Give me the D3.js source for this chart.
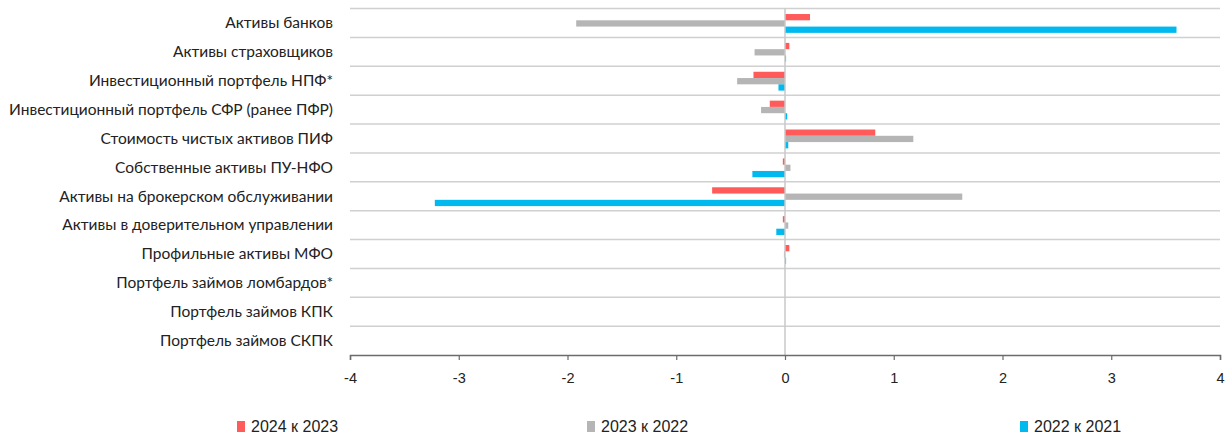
<!DOCTYPE html>
<html>
<head>
<meta charset="utf-8">
<script src="https://cdn.jsdelivr.net/npm/d3@7"></script>
<style>
  html, body { margin: 0; padding: 0; background: #fff; }
  svg { display: block; }
</style>
</head>
<body>
<svg id="chart" width="1227" height="437"></svg>
<script>
// Categories (top to bottom)
const categories = [
  "Активы банков",
  "Активы страховщиков",
  "Инвестиционный портфель НПФ*",
  "Инвестиционный портфель СФР (ранее ПФР)",
  "Стоимость чистых активов ПИФ",
  "Собственные активы ПУ-НФО",
  "Активы на брокерском обслуживании",
  "Активы в доверительном управлении ",
  "Профильные активы МФО",
  "Портфель займов ломбардов*",
  "Портфель займов КПК",
  "Портфель займов СКПК"
];

// Series names and colours
const seriesNames = ["2024 к 2023", "2023 к 2022", "2022 к 2021"];
const seriesColors = ["#ff5b5b", "#b5b5b6", "#00b9ef"];

// Values per series, in category order
const values2024vs2023 = [0.23, 0.04, -0.29, -0.14, 0.83, -0.02, -0.67, -0.02, 0.04, 0, 0, 0];
const values2023vs2022 = [-1.92, -0.28, -0.44, -0.22, 1.18, 0.05, 1.63, 0.03, -0.01, 0, 0, 0];
const values2022vs2021 = [3.60, 0.01, -0.06, 0.02, 0.03, -0.30, -3.22, -0.08, 0.01, 0, 0, 0];
const seriesValues = [values2024vs2023, values2023vs2022, values2022vs2021];

// Axis ticks
const xTicks = [-4, -3, -2, -1, 0, 1, 2, 3, 4];

const svg = d3.select("#chart");
const plot = { left: 350, right: 1220, top: 8.5, bottom: 355 };

const x = d3.scaleLinear().domain([-4, 4]).range([plot.left, plot.right]);
const y = d3.scaleBand().domain(categories).range([plot.top, plot.bottom]).padding(0);
const yInner = d3.scaleBand().domain(d3.range(seriesNames.length))
  .range([0, y.bandwidth()]).paddingInner(0).paddingOuter(0.8).align(0.55);

// Horizontal separators between categories
const grid = svg.append("g");
categories.forEach(c => {
  grid.append("line")
    .attr("x1", plot.left).attr("x2", plot.right)
    .attr("y1", y(c)).attr("y2", y(c))
    .attr("stroke", "#d0d0d0").attr("stroke-width", 1.5);
});

// Bars
const bars = svg.append("g");
seriesValues.forEach((vals, si) => {
  bars.selectAll(null)
    .data(vals.map((v, i) => ({ v, c: categories[i] })))
    .join("rect")
    .attr("x", d => x(Math.min(0, d.v)))
    .attr("width", d => Math.abs(x(d.v) - x(0)))
    .attr("y", d => y(d.c) + yInner(si))
    .attr("height", yInner.bandwidth())
    .attr("fill", seriesColors[si]);
});

// Zero line
svg.append("line")
  .attr("x1", x(0)).attr("x2", x(0))
  .attr("y1", plot.top).attr("y2", plot.bottom)
  .attr("stroke", "#c8c8c8").attr("stroke-width", 1.5);

// Category labels
svg.append("g").selectAll("text")
  .data(categories)
  .join("text")
  .attr("x", 333)
  .attr("y", d => y(d) + y.bandwidth() / 2)
  .attr("dy", "0.35em")
  .attr("text-anchor", "end")
  .attr("font-family", "Lato, 'Open Sans', sans-serif")
  .attr("font-size", 15.5)
  .attr("fill", "#222")
  .text(d => d);

// Bottom axis
const axis = svg.append("g")
  .attr("transform", `translate(0,${plot.bottom})`)
  .call(d3.axisBottom(x).tickValues(xTicks).tickSize(5).tickPadding(13).tickFormat(d3.format("d")));
axis.select(".domain").attr("stroke", "#6b6b6b").attr("stroke-width", 1.5);
axis.selectAll(".tick line").attr("stroke", "#6b6b6b").attr("stroke-width", 1.2);
axis.selectAll(".tick text")
  .attr("font-family", "'Liberation Sans', Arial, sans-serif")
  .attr("font-size", 14.5)
  .attr("fill", "#222")
  .text(d => d < 0 ? "-" + Math.abs(d) : d);

// Legend
const legendX = [237, 587, 1020];
const legend = svg.append("g");
seriesNames.forEach((name, i) => {
  legend.append("rect")
    .attr("x", legendX[i]).attr("y", 421)
    .attr("width", 8).attr("height", 11)
    .attr("fill", seriesColors[i]);
  legend.append("text")
    .attr("x", legendX[i] + 14).attr("y", 426.5)
    .attr("dy", "0.35em")
    .attr("font-family", "'Liberation Sans', sans-serif")
    .attr("font-size", 16)
    .attr("fill", "#222")
    .text(name);
});
</script>
</body>
</html>
